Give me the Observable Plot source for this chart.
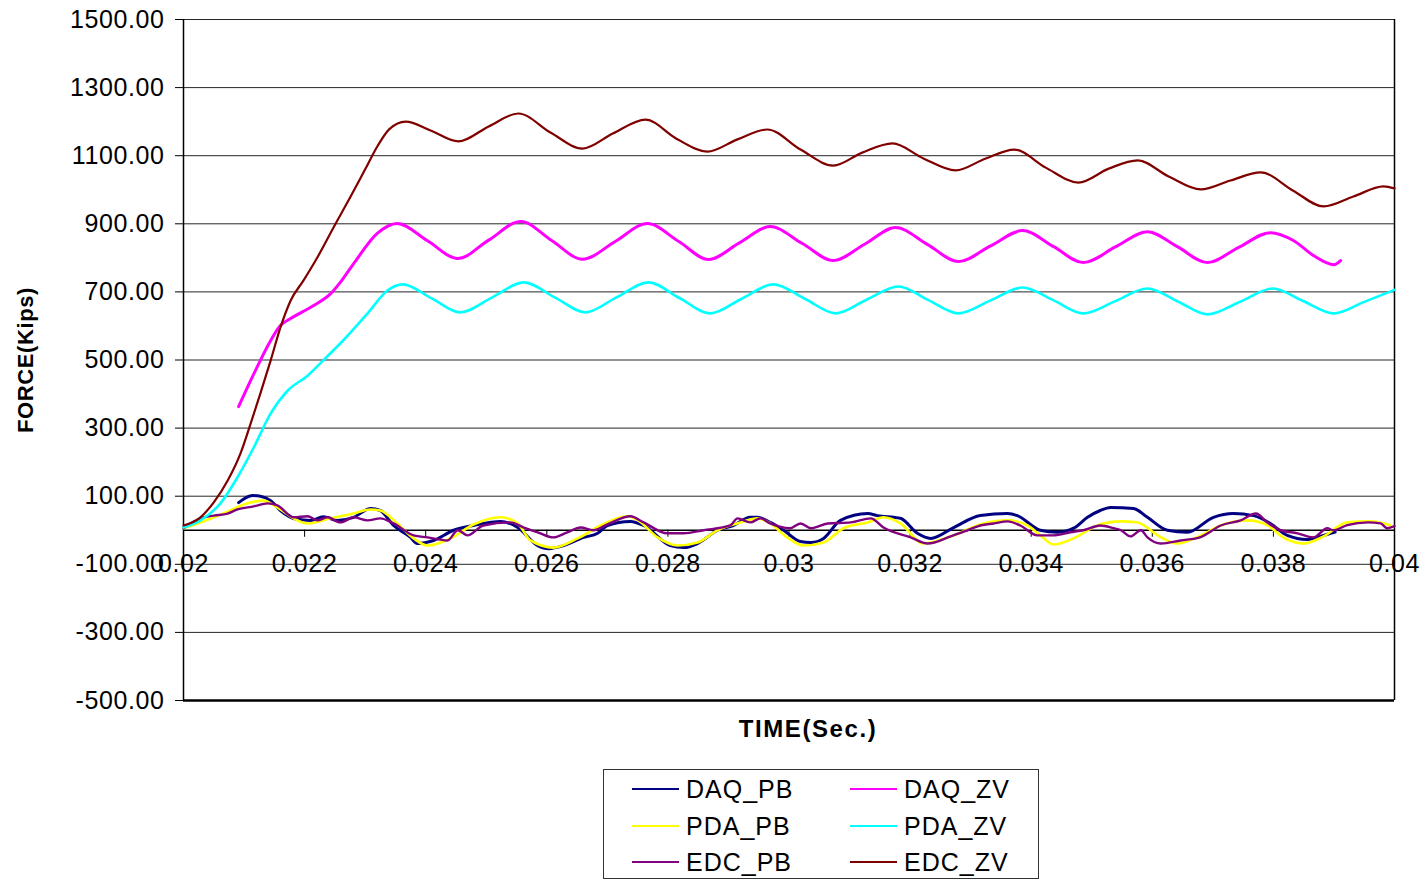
<!DOCTYPE html>
<html>
<head>
<meta charset="utf-8">
<script src="https://cdn.jsdelivr.net/npm/d3@7"></script>
<script src="https://cdn.jsdelivr.net/npm/@observablehq/plot@0.6"></script>
<style>
  html, body { margin: 0; padding: 0; background: #fff; }
  #wrap { position: relative; width: 1424px; height: 880px; overflow: hidden; background: #fff;
          font-family: "Liberation Sans", Arial, sans-serif; color: #000; }
  #chart { position: absolute; left: 0; top: 0; }
  #xtitle { position: absolute; left: 0; width: 1424px; padding-left: 192px; box-sizing: border-box; text-align: center;
            top: 715px; font-weight: bold; font-size: 24px; letter-spacing: 1.6px; }
  #legend { position: absolute; left: 603px; top: 769px; width: 436px; height: 110px; box-sizing: border-box;
            border: 1px solid #333; }
  .item { position: absolute; height: 30px; font-size: 25px; letter-spacing: 1px; line-height: 30px; }
  .item .sw { position: absolute; left: 0; top: 14px; width: 47px; height: 0; border-top: 2px solid; }
  .item .lb { position: absolute; left: 54px; top: 0; white-space: nowrap; }
</style>
</head>
<body>
<div id="wrap">
  <div id="chart"></div>
  <div id="xtitle">TIME(Sec.)</div>
  <div id="legend"></div>
</div>
<script>
// ---- axes / ticks ----
const yTicks = [-500, -300, -100, 100, 300, 500, 700, 900, 1100, 1300, 1500];
const xTicks = [0.02, 0.022, 0.024, 0.026, 0.028, 0.03, 0.032, 0.034, 0.036, 0.038, 0.04];
const xAxisAt = 0;       // horizontal axis crosses the value axis at 0
const xLabelsAt = -100;  // tick labels sit on the -100 line
const yTitle = "FORCE(Kips)";

// ---- series: [time (s), force (kips)] ----
const DAQ_PB = [
  [0.02091, 81], [0.02114, 102], [0.02127, 100], [0.02144, 87], [0.02160, 58], [0.02188, 32], [0.02210, 29],
  [0.02231, 40], [0.02254, 29], [0.02281, 38], [0.02309, 64], [0.02325, 58], [0.02347, 14], [0.02375, -21],
  [0.02386, -39], [0.02413, -30], [0.02446, 0], [0.02479, 14], [0.02524, 26], [0.02552, 8], [0.02585, -45],
  [0.02603, -54], [0.02628, -45], [0.02661, -21], [0.02684, -9], [0.02700, 14], [0.02738, 26], [0.02760, 14],
  [0.02804, -45], [0.02826, -51], [0.02849, -39], [0.02882, 0], [0.02908, 14], [0.02936, 38], [0.02948, 38],
  [0.02969, 23], [0.02991, 0], [0.03019, -33], [0.03036, -36], [0.03057, -24], [0.03085, 29], [0.03130, 49],
  [0.03146, 43], [0.03184, 35], [0.03212, -9], [0.03234, -24], [0.03272, 8], [0.03316, 43], [0.03361, 49],
  [0.03377, 43], [0.03415, 0], [0.03443, -6], [0.03470, 6], [0.03493, 38], [0.03514, 58], [0.03531, 67],
  [0.03569, 64], [0.03592, 38], [0.03625, 0], [0.03658, -6], [0.03701, 38], [0.03734, 49], [0.03767, 43],
  [0.03795, 20], [0.03823, -15], [0.03856, -27], [0.03883, -15], [0.03902, -5]
];
const PDA_PB = [
  [0.02000, 6], [0.02028, 23], [0.02066, 49], [0.02106, 79], [0.02132, 87], [0.02155, 67], [0.02182, 35],
  [0.02205, 20], [0.02243, 35], [0.02281, 49], [0.02309, 61], [0.02325, 58], [0.02353, 20], [0.02380, -24],
  [0.02403, -45], [0.02441, -24], [0.02479, 17], [0.02524, 38], [0.02552, 20], [0.02573, -30], [0.02611, -51],
  [0.02651, -24], [0.02689, 14], [0.02733, 41], [0.02750, 30], [0.02783, -21], [0.02816, -45], [0.02849, -36],
  [0.02882, 0], [0.02920, 23], [0.02948, 35], [0.02969, 20], [0.02997, -21], [0.03024, -45], [0.03057, -36],
  [0.03090, 6], [0.03130, 23], [0.03156, 38], [0.03184, 20], [0.03222, -39], [0.03272, -15], [0.03321, 20],
  [0.03361, 29], [0.03394, 14], [0.03415, -15], [0.03437, -42], [0.03470, -24], [0.03509, 14], [0.03548, 26],
  [0.03576, 23], [0.03609, -15], [0.03642, -39], [0.03675, -20], [0.03713, 14], [0.03757, 29], [0.03790, 15],
  [0.03816, -21], [0.03850, -39], [0.03883, -18], [0.03922, 23], [0.03960, 26], [0.03993, 15]
];
const EDC_PB = [
  [0.02000, 6], [0.02028, 35], [0.02050, 43], [0.02073, 49], [0.02089, 61], [0.02116, 70], [0.02139, 79],
  [0.02155, 73], [0.02182, 38], [0.02205, 41], [0.02221, 29], [0.02238, 38], [0.02259, 23], [0.02281, 38],
  [0.02304, 29], [0.02325, 35], [0.02347, 20], [0.02380, -15], [0.02403, -21], [0.02436, -30], [0.02453, 0],
  [0.02469, -15], [0.02495, 14], [0.02540, 23], [0.02562, 8], [0.02585, -6], [0.02611, -21], [0.02634, -6],
  [0.02656, 8], [0.02677, 0], [0.02700, 17], [0.02738, 41], [0.02760, 23], [0.02799, -9], [0.02826, -9],
  [0.02859, 0], [0.02903, 14], [0.02915, 35], [0.02936, 23], [0.02953, 35], [0.02969, 20], [0.03002, 6],
  [0.03019, 20], [0.03036, 6], [0.03064, 20], [0.03102, 23], [0.03135, 35], [0.03156, 8], [0.03201, -21],
  [0.03229, -39], [0.03267, -18], [0.03295, 0], [0.03316, 14], [0.03338, 20], [0.03361, 26], [0.03382, 14],
  [0.03410, -15], [0.03437, -15], [0.03465, -6], [0.03486, 0], [0.03514, 14], [0.03536, 6], [0.03548, 0],
  [0.03564, -18], [0.03581, 0], [0.03592, -21], [0.03614, -39], [0.03647, -30], [0.03680, -20], [0.03713, 14],
  [0.03746, 29], [0.03771, 49], [0.03790, 23], [0.03812, 0], [0.03840, -9], [0.03866, -21], [0.03889, 6],
  [0.03899, 0], [0.03922, 15], [0.03956, 23], [0.03977, 20], [0.03988, 6], [0.04000, 12]
];
const DAQ_ZV = [
  [0.02091, 363], [0.02111, 440], [0.02127, 499], [0.02144, 557], [0.02160, 601], [0.02177, 622], [0.02215, 660],
  [0.02243, 695], [0.02259, 728], [0.02281, 783], [0.02320, 872], [0.02353, 901], [0.02403, 850], [0.02453, 798],
  [0.02504, 852], [0.02557, 907], [0.02608, 851], [0.02659, 796], [0.02713, 848], [0.02766, 901], [0.02818, 848],
  [0.02867, 795], [0.02918, 844], [0.02969, 892], [0.03022, 842], [0.03073, 792], [0.03125, 840], [0.03176, 889],
  [0.03229, 839], [0.03280, 789], [0.03333, 835], [0.03386, 880], [0.03437, 833], [0.03486, 786], [0.03539, 832],
  [0.03592, 877], [0.03642, 832], [0.03691, 786], [0.03742, 830], [0.03795, 874], [0.03833, 851], [0.03866, 807],
  [0.03900, 780], [0.03911, 792]
];
const PDA_ZV = [
  [0.02000, 8], [0.02028, 29], [0.02061, 79], [0.02089, 155], [0.02116, 243], [0.02144, 343], [0.02172, 410],
  [0.02205, 454], [0.02231, 499], [0.02264, 558], [0.02304, 637], [0.02337, 704], [0.02362, 722], [0.02410, 681],
  [0.02457, 640], [0.02510, 684], [0.02562, 728], [0.02613, 684], [0.02664, 640], [0.02715, 684], [0.02768, 728],
  [0.02819, 682], [0.02870, 637], [0.02922, 680], [0.02974, 722], [0.03026, 680], [0.03077, 637], [0.03128, 677],
  [0.03181, 716], [0.03230, 676], [0.03280, 637], [0.03333, 675], [0.03386, 713], [0.03437, 675], [0.03486, 637],
  [0.03539, 673], [0.03592, 710], [0.03642, 672], [0.03691, 634], [0.03746, 672], [0.03799, 710], [0.03848, 674],
  [0.03900, 637], [0.03949, 670], [0.04000, 706]
];
const EDC_ZV = [
  [0.02000, 14], [0.02028, 38], [0.02050, 82], [0.02073, 146], [0.02094, 225], [0.02111, 314], [0.02127, 402],
  [0.02144, 499], [0.02160, 595], [0.02177, 675], [0.02198, 733], [0.02221, 801], [0.02248, 890], [0.02276, 980],
  [0.02300, 1060], [0.02321, 1130], [0.02340, 1178], [0.02367, 1200], [0.02408, 1174], [0.02454, 1142], [0.02504, 1186],
  [0.02553, 1224], [0.02606, 1168], [0.02659, 1121], [0.02709, 1165], [0.02763, 1206], [0.02814, 1150],
  [0.02865, 1112], [0.02915, 1148], [0.02964, 1177], [0.03019, 1118], [0.03073, 1071], [0.03121, 1109],
  [0.03171, 1136], [0.03222, 1092], [0.03275, 1057], [0.03325, 1092], [0.03372, 1118], [0.03424, 1065],
  [0.03478, 1021], [0.03528, 1062], [0.03576, 1086], [0.03627, 1039], [0.03680, 1001], [0.03729, 1027],
  [0.03779, 1051], [0.03832, 998], [0.03883, 951], [0.03932, 980], [0.03982, 1010], [0.04000, 1004]
];

const seriesNames = ["DAQ_PB", "PDA_PB", "EDC_PB", "DAQ_ZV", "PDA_ZV", "EDC_ZV"];
const seriesColors = ["#000080", "#FFFF00", "#800080", "#FF00FF", "#00FFFF", "#800000"];
const seriesData = [DAQ_PB, PDA_PB, EDC_PB, DAQ_ZV, PDA_ZV, EDC_ZV];
const seriesWidths = [3, 2.6, 2.4, 3, 2.6, 2.2];

const lineMarks = seriesData.map((data, i) =>
  Plot.line(data, {
    x: d => d[0], y: d => d[1],
    stroke: seriesColors[i], strokeWidth: seriesWidths[i],
    curve: "monotone-x", strokeLinejoin: "round", strokeLinecap: "round"
  })
);

const chart = Plot.plot({
  width: 1424,
  height: 710,
  marginLeft: 183,
  marginRight: 30,
  marginTop: 19,
  marginBottom: 10,
  style: { fontFamily: "'Liberation Sans', Arial, sans-serif", fontSize: "25px", letterSpacing: "0.6px", color: "#000", background: "transparent", overflow: "visible" },
  x: { domain: [0.02, 0.04], axis: null },
  y: { domain: [-500, 1500], axis: null },
  marks: [
    Plot.ruleY(yTicks, { stroke: "#000", strokeWidth: 1, strokeOpacity: 0.85 }),
    Plot.ruleY([yTicks[0]], { stroke: "#000", strokeWidth: 2.5 }),
    Plot.ruleX([xTicks[0], xTicks[xTicks.length - 1]], { stroke: "#000", strokeWidth: 1.5 }),
    Plot.axisY(yTicks, { tickFormat: d => d.toFixed(2), tickSize: 8, tickPadding: 11, label: null, stroke: "#000", fill: "#000" }),
    Plot.ruleY([xAxisAt], { stroke: "#000", strokeWidth: 1.5 }),
    Plot.ruleX(xTicks, { x: d => d, y1: () => xAxisAt, y2: () => xAxisAt, insetBottom: -7, stroke: "#000", strokeWidth: 1 }),
    Plot.text(xTicks, { x: d => d, y: () => xLabelsAt, text: d => String(d), textAnchor: "middle", lineAnchor: "middle", fill: "#000" }),
    Plot.text([yTitle], { frameAnchor: "left", dx: -158, rotate: -90, textAnchor: "middle", lineAnchor: "middle", fontWeight: "bold", fontSize: 22, letterSpacing: "0.8px", fill: "#000" }),
    ...lineMarks
  ]
});
document.getElementById("chart").appendChild(chart);

// ---- legend (two columns, three rows) ----
const legend = document.getElementById("legend");
const colX = [28, 246];
const rowY = [4, 41, 77];
seriesNames.forEach((name, i) => {
  const col = i < 3 ? 0 : 1;
  const row = i % 3;
  const item = document.createElement("div");
  item.className = "item";
  item.style.left = colX[col] + "px";
  item.style.top = rowY[row] + "px";
  const sw = document.createElement("div");
  sw.className = "sw";
  sw.style.borderTopColor = seriesColors[i];
  const lb = document.createElement("div");
  lb.className = "lb";
  lb.textContent = name;
  item.appendChild(sw);
  item.appendChild(lb);
  legend.appendChild(item);
});
</script>
</body>
</html>
